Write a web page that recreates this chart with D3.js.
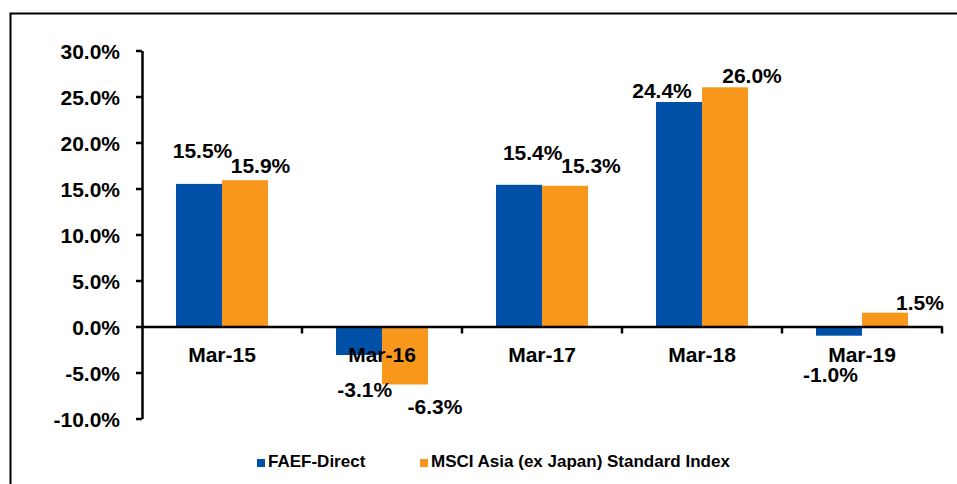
<!DOCTYPE html>
<html>
<head>
<meta charset="utf-8">
<script src="https://cdn.jsdelivr.net/npm/d3@7"></script>
<style>
  html, body { margin: 0; padding: 0; background: #fff; }
  svg text { font-family: Arial, "Liberation Sans", sans-serif; font-weight: bold; fill: #000; }
</style>
</head>
<body>
<svg id="chart" width="957" height="484"></svg>
<script>
// ---- data ----
const categories = ["Mar-15", "Mar-16", "Mar-17", "Mar-18", "Mar-19"];
const seriesNames = ["FAEF-Direct", "MSCI Asia (ex Japan) Standard Index"];
const faefDirect = [15.5, -3.1, 15.4, 24.4, -1.0];
const msciAsia = [15.9, -6.3, 15.3, 26.0, 1.5];
const yTicks = [-10, -5, 0, 5, 10, 15, 20, 25, 30];
// label nudges (px) relative to default label placement, as in the reference
const labelDx = [[3.5, 5.7, 13.7, -17, -8.5], [15.5, 30, 26, 27, 35]];
const labelDy = [[-21, 22, -20, 1, 26], [-2, 10, -7.6, 1, 2]];

const colors = ["#0050A8", "#F7981D"];
const seriesValues = [faefDirect, msciAsia];
const pct = d => d3.format(".1f")(d).replace("\u2212", "-") + "%";

const svg = d3.select("#chart");

// frame
svg.append("path")
  .attr("d", "M10.5,484 V13.5 H957")
  .attr("fill", "none").attr("stroke", "#000").attr("stroke-width", 2);

const x = d3.scaleBand().domain(categories).range([142, 942]);
const inner = d3.scaleBand().domain(d3.range(seriesNames.length))
  .range([x.bandwidth() * 0.2125, x.bandwidth() * 0.7875]);
const y = d3.scaleLinear().domain([-10, 30]).range([418.5, 50.5]);

// bars
seriesValues.forEach((vals, s) => {
  svg.append("g").selectAll("rect").data(vals).join("rect")
    .attr("x", (d, i) => x(categories[i]) + inner(s))
    .attr("width", inner.bandwidth())
    .attr("y", d => y(Math.max(0, d)))
    .attr("height", d => Math.abs(y(d) - y(0)))
    .attr("fill", colors[s]);
});

// y axis
const yAxis = svg.append("g").attr("transform", "translate(142,0)")
  .call(d3.axisLeft(y).tickValues(yTicks).tickSize(6).tickSizeOuter(0)
    .tickFormat(pct));
yAxis.select(".domain").attr("stroke", "#000").attr("stroke-width", 2.5);
yAxis.selectAll(".tick line").attr("stroke", "#000").attr("stroke-width", 2.5);
yAxis.selectAll(".tick text").attr("x", -22).attr("dy", "0.36em")
  .style("font-size", "21px");

// x axis at zero
const xAxis = svg.append("g").attr("transform", `translate(0,${y(0)})`)
  .call(d3.axisBottom(x).tickSize(0).tickSizeOuter(0));
xAxis.select(".domain").attr("stroke", "#000").attr("stroke-width", 2.5);
xAxis.selectAll(".tick text").attr("y", 35).attr("dy", 0)
  .style("font-size", "21px");
// band boundary ticks
const bounds = categories.map(c => x(c) + x.bandwidth());
svg.append("g").selectAll("line").data(bounds).join("line")
  .attr("x1", d => d).attr("x2", d => d)
  .attr("y1", y(0)).attr("y2", y(0) + 7)
  .attr("stroke", "#000").attr("stroke-width", 2.5);

// data labels
seriesValues.forEach((vals, s) => {
  svg.append("g").selectAll("text").data(vals).join("text")
    .attr("text-anchor", "middle")
    .style("font-size", "21px")
    .attr("x", (d, i) => x(categories[i]) + inner(s) + inner.bandwidth() / 2 + labelDx[s][i])
    .attr("y", (d, i) => (d >= 0 ? y(d) - 5 : y(d) + 20) + labelDy[s][i])
    .text(pct);
});

// legend
const legendX = [257, 420];
seriesNames.forEach((name, s) => {
  const g = svg.append("g").attr("transform", `translate(${legendX[s]},459)`);
  g.append("rect").attr("width", 8).attr("height", 8).attr("fill", colors[s]);
  g.append("text").attr("x", 11).attr("y", 8).style("font-size", "17px").text(name);
});
</script>
</body>
</html>
